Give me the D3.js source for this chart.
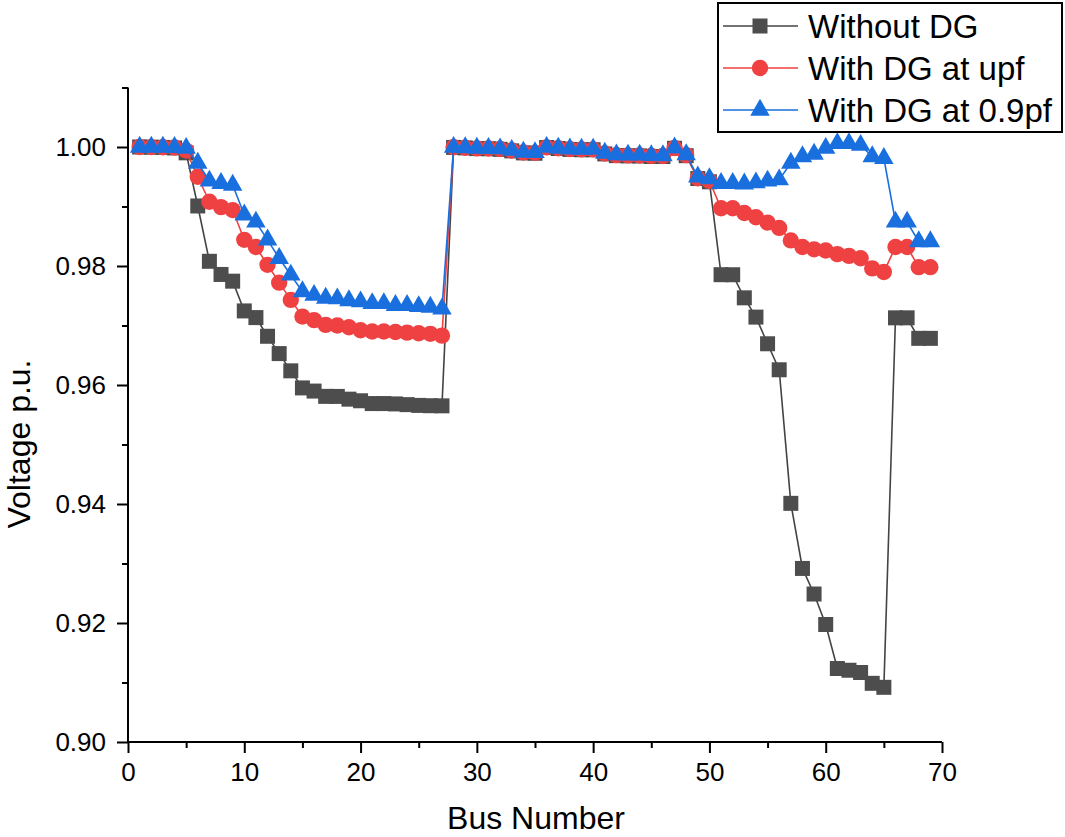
<!DOCTYPE html>
<html><head><meta charset="utf-8">
<script src="https://cdn.jsdelivr.net/npm/d3@7"></script>
<style>body{margin:0;background:#fff}svg{display:block;font-family:"Liberation Sans",Arial,sans-serif}</style>
</head><body>
<script>
const buses = d3.range(1, 70);
const withoutDG = [1.0000,0.99997,0.99993,0.99984,0.99902,0.99009,0.98079,0.97858,0.97745,0.97245,0.97133,0.96819,0.96528,0.96238,0.95951,0.95898,0.95809,0.95808,0.95762,0.95735,0.95688,0.95688,0.95682,0.95670,0.95657,0.95652,0.95650,
0.99993,0.99985,0.99973,0.99971,0.99961,0.99935,0.99901,0.99895,0.99992,0.99975,0.99959,0.99954,0.99954,0.99884,0.99855,0.99851,0.99850,0.99841,0.99840,0.99979,0.99854,0.99470,0.99415,
0.97854,0.97853,0.97465,0.97141,0.96693,0.96256,0.94011,0.92917,0.92487,0.91975,0.91235,0.91206,0.91168,0.90986,0.90919,0.97129,0.97129,0.96784,0.96784];
const withDGupf = [1.0000,0.99999,0.99996,0.99991,0.99940,0.9950,0.9908,0.9899,0.9894,0.9844,0.9832,0.9802,0.9772,0.9743,0.9715,0.9709,0.9701,0.9700,0.9697,0.9692,0.9690,0.9690,0.9689,0.9688,0.9687,0.9686,0.9683,
0.99995,0.99988,0.99977,0.99975,0.99966,0.99941,0.99908,0.99902,0.99994,0.99979,0.99964,0.99959,0.99959,0.99891,0.99863,0.99859,0.99858,0.99850,0.99849,0.99983,0.99863,0.99475,0.99430,
0.9897,0.9897,0.9889,0.9882,0.9873,0.9864,0.9843,0.9832,0.9828,0.9826,0.9820,0.9817,0.9813,0.9796,0.9790,0.9832,0.9832,0.9798,0.9798];
const withDG09 = [1.0000,1.0000,0.99998,0.99995,0.99980,0.9973,0.9943,0.9939,0.9936,0.9886,0.9874,0.9844,0.9813,0.9785,0.9757,0.9751,0.9746,0.9745,0.9742,0.9740,0.9737,0.9737,0.9734,0.9734,0.9732,0.9731,0.9728,
0.99997,0.99991,0.99981,0.99979,0.99971,0.99947,0.99915,0.99909,0.99996,0.99983,0.99969,0.99965,0.99965,0.99898,0.99871,0.99867,0.99866,0.99858,0.99857,0.99987,0.99872,0.99500,0.99470,
0.9939,0.9939,0.9938,0.9940,0.9943,0.9945,0.9973,0.9984,0.9988,0.9998,1.0006,1.0006,1.0003,0.9984,0.9981,0.9874,0.9874,0.9841,0.9841];
const seriesNames = ["Without DG","With DG at upf","With DG at 0.9pf"];
const xTicks = [0,10,20,30,40,50,60,70];
const yTicks = [0.90,0.92,0.94,0.96,0.98,1.00];

const W = 1065, H = 837;
const svg = d3.select("body").append("svg").attr("width", W).attr("height", H);
const x = d3.scaleLinear().domain([0, 70]).range([128, 942]);
const y = d3.scaleLinear().domain([0.90, 1.00]).range([742, 147]);
const yTop = 1.01;

const series = [
  {name: seriesNames[0], vals: withoutDG, line: "#444444", fill: "#4d4d4d", sym: d3.symbolSquare, size: 225},
  {name: seriesNames[1], vals: withDGupf, line: "#ef4142", fill: "#ef4142", sym: d3.symbolCircle, size: 210},
  {name: seriesNames[2], vals: withDG09, line: "#1a6fdf", fill: "#1a6fdf", sym: d3.symbolTriangle, size: 165}
];

const lineGen = d3.line().x(d => x(d[0])).y(d => y(d[1]));
series.forEach(s => {
  const pts = buses.map((b, i) => [b, s.vals[i]]);
  const g = svg.append("g");
  g.append("path").datum(pts).attr("d", lineGen).attr("fill", "none").attr("stroke", s.line).attr("stroke-width", 1.6);
  g.selectAll("path.m").data(pts).join("path").attr("class", "m")
    .attr("d", d3.symbol().type(s.sym).size(s.size))
    .attr("transform", d => `translate(${x(d[0])},${y(d[1])})`)
    .attr("fill", s.fill);
});

// axes
const axG = svg.append("g").attr("stroke", "#000").attr("stroke-width", 2);
axG.append("line").attr("x1", x(0)).attr("x2", x(70)).attr("y1", y(0.90)).attr("y2", y(0.90));
axG.append("line").attr("x1", x(0)).attr("x2", x(0)).attr("y1", y(0.90)).attr("y2", y(yTop));

const xAxis = d3.axisBottom(x).tickValues(xTicks).tickSize(11).tickPadding(10).tickFormat(d3.format("d"));
const gx = svg.append("g").attr("transform", `translate(0,${y(0.90)})`).call(xAxis);
const xMinor = d3.axisBottom(x).tickValues([5,15,25,35,45,55,65]).tickSize(6).tickFormat("");
const gxm = svg.append("g").attr("transform", `translate(0,${y(0.90)})`).call(xMinor);

const yAxis = d3.axisLeft(y).tickValues(yTicks).tickSize(11).tickPadding(11).tickFormat(d3.format(".2f"));
const gy = svg.append("g").attr("transform", `translate(${x(0)},0)`).call(yAxis);
const yMinor = d3.axisLeft(y).tickValues([0.91,0.93,0.95,0.97,0.99,1.01]).tickSize(6).tickFormat("");
const gym = svg.append("g").attr("transform", `translate(${x(0)},0)`).call(yMinor);

[gx, gxm, gy, gym].forEach(g => {
  g.select(".domain").remove();
  g.selectAll(".tick line").attr("stroke", "#000").attr("stroke-width", 2);
  g.selectAll(".tick text").attr("fill", "#000").style("font-size", "26px").style("font-family", '"Liberation Sans",Arial,sans-serif');
});

svg.append("text").attr("x", 536).attr("y", 829).attr("text-anchor", "middle")
  .style("font-size", "32px").text("Bus Number");
svg.append("text").attr("transform", "translate(30,444) rotate(-90)").attr("text-anchor", "middle")
  .style("font-size", "32px").text("Voltage p.u.");

// legend
const lg = svg.append("g");
lg.append("rect").attr("x", 718).attr("y", 3).attr("width", 344).attr("height", 129)
  .attr("fill", "#fff").attr("stroke", "#000").attr("stroke-width", 2);
const rowsY = [26, 68, 110];
series.forEach((s, i) => {
  const ry = rowsY[i];
  lg.append("line").attr("x1", 723).attr("x2", 798).attr("y1", ry).attr("y2", ry).attr("stroke", s.line).attr("stroke-width", 1.6);
  lg.append("path").attr("d", d3.symbol().type(s.sym).size(s.size)).attr("transform", `translate(760,${ry})`).attr("fill", s.fill);
  lg.append("text").attr("x", 808).attr("y", ry + 12).style("font-size", "33px").text(s.name);
});
</script>
</body></html>
